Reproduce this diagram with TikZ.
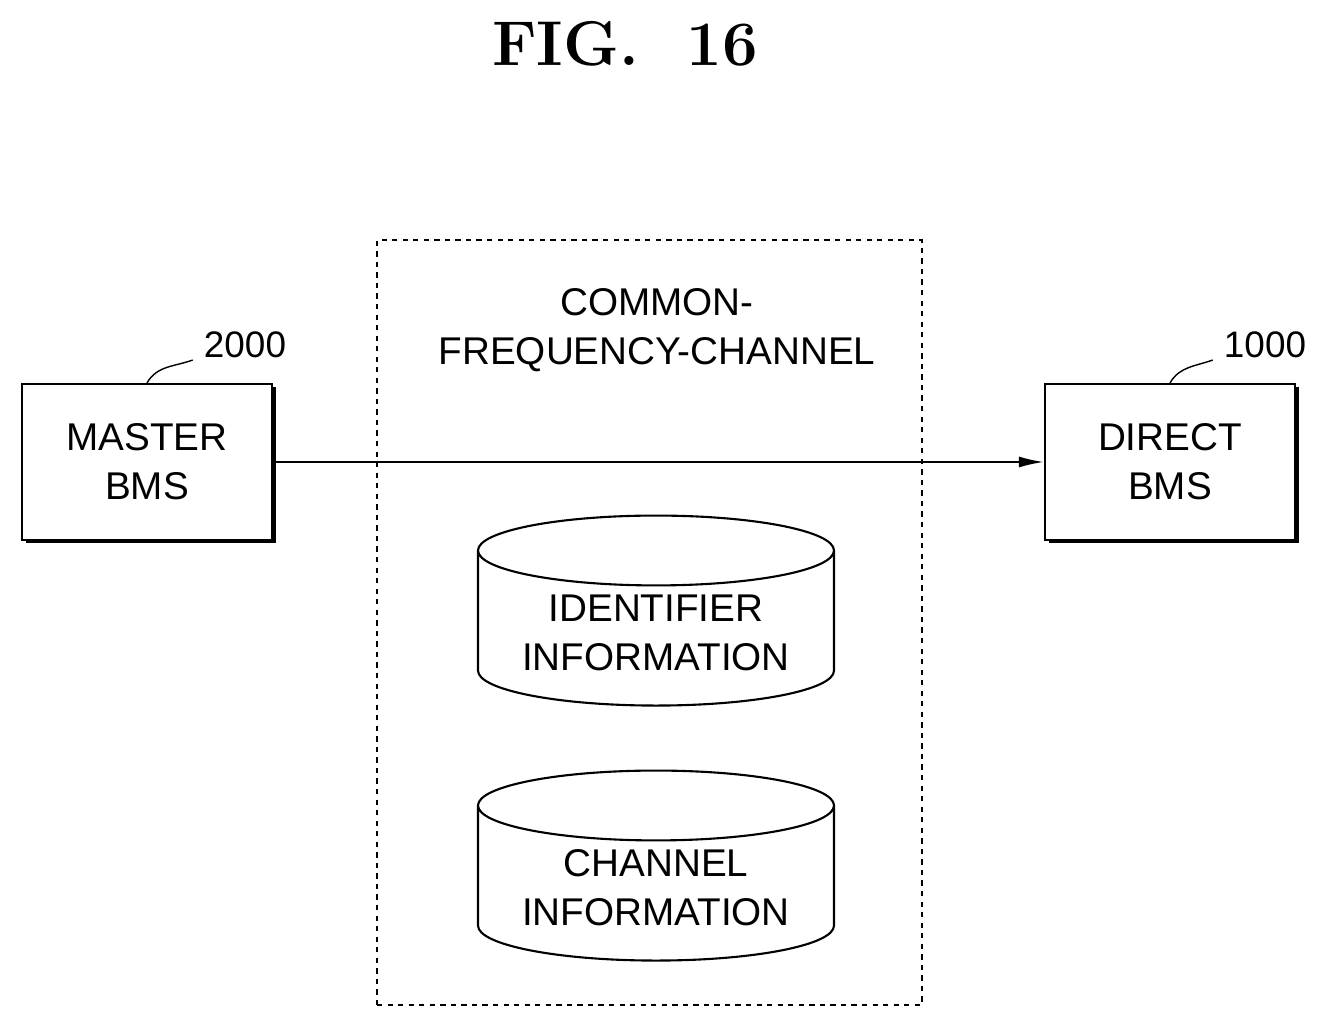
\documentclass[tikz,border=0pt]{standalone}
\usepackage{fontspec}
\setsansfont{Liberation Sans}
\usetikzlibrary{shapes.geometric, arrows.meta, positioning}
\tikzset{
  bms/.style={rectangle, draw, line width=1.2pt, fill=white, minimum width=5cm, minimum height=3.12cm, align=center,
    preaction={fill=black, transform canvas={shift={(0.07,-0.07)}}}},
  store/.style={cylinder, shape border rotate=90, draw, line width=1.2pt, aspect=0.25, minimum width=7.12cm, minimum height=3.8cm, align=center},
  lbl/.style={font=\sffamily\fontsize{21}{22}\selectfont},
  arrow/.style={-{Latex[length=0.5cm,width=0.22cm]}, line width=1.2pt}
}
\begin{document}
\begin{tikzpicture}[every node/.append style={font=\sffamily\fontsize{22}{28}\selectfont}]
\useasboundingbox (0,0) rectangle (26.7,20.58);

% title
\node[font=\bfseries\fontsize{36}{40}\selectfont] (title) at (12.5,19.7) {FIG.\ \ 16};

% boxes
\node[bms] (master) at (2.94,11.34) {MASTER\\BMS};
\node[bms] (direct) at (23.4,11.34) {DIRECT\\BMS};

% common channel
\node[draw, dashed, line width=0.8pt, minimum width=10.9cm, minimum height=15.3cm] (channel) at (12.99,8.13) {};
\node[align=center] (chtext) at (13.14,13.98) {COMMON-\\FREQUENCY-CHANNEL};
\node[store] (ident) at (13.12,7.92) {IDENTIFIER\\INFORMATION};
\node[store] (chinfo) at (13.12,2.82) {CHANNEL\\INFORMATION};

% reference labels
\node[lbl] (l2000) at (4.9,13.68) {2000};
\node[lbl] (l1000) at (25.3,13.68) {1000};
\draw[line width=0.8pt] (master.north) to[out=60,in=200] ([xshift=-0.1cm,yshift=-0.3cm]l2000.west);
\draw[line width=0.8pt] (direct.north) to[out=60,in=200] ([xshift=-0.1cm,yshift=-0.3cm]l1000.west);

% link
\draw[arrow] (master.east) -- (direct.west);
\end{tikzpicture}
\end{document}
